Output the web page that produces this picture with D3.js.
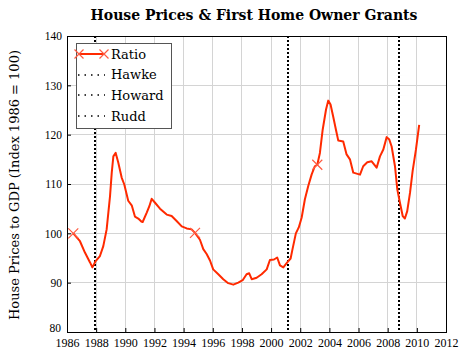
<!DOCTYPE html>
<html><head><meta charset="utf-8">
<script src="https://cdn.jsdelivr.net/npm/d3@7"></script>
<style>body{margin:0;background:#fff}svg{display:block}</style>
</head><body>
<svg id="c" width="465" height="355"></svg>
<script>
const years = [1986.43,1986.89,1987.23,1987.58,1987.74,1987.95,1988.26,1988.49,1988.72,1988.95,1989.07,1989.18,1989.34,1989.52,1989.75,1989.93,1990.2,1990.45,1990.66,1990.89,1991.1,1991.19,1991.47,1991.65,1991.81,1992.04,1992.38,1992.84,1993.18,1993.52,1993.87,1994.21,1994.55,1994.78,1995.12,1995.35,1995.58,1995.81,1996.03,1996.38,1996.72,1997.06,1997.41,1997.75,1998.05,1998.32,1998.5,1998.67,1999.01,1999.35,1999.7,1999.92,2000.2,2000.42,2000.61,2000.84,2001.11,2001.34,2001.45,2001.7,2001.9,2002.1,2002.32,2002.55,2002.78,2003.0,2003.17,2003.35,2003.54,2003.77,2003.92,2004.08,2004.26,2004.45,2004.61,2004.95,2005.18,2005.41,2005.64,2006.1,2006.32,2006.6,2006.9,2007.24,2007.47,2007.7,2007.93,2008.11,2008.27,2008.5,2008.66,2008.84,2009.03,2009.18,2009.34,2009.53,2009.71,2009.94,2010.16];
const ratio = [100.0,98.4,96.1,94.1,93.1,94.3,95.4,97.4,100.8,107.5,112.3,115.6,116.3,114.3,111.3,109.9,106.6,105.6,103.4,103.0,102.4,102.3,104.2,105.5,107.0,106.2,105.0,103.8,103.5,102.5,101.4,101.0,100.8,100.1,98.7,96.8,95.8,94.5,92.7,91.7,90.7,89.9,89.6,90.0,90.5,91.7,91.9,90.7,91.0,91.7,92.7,94.6,94.7,95.1,93.5,93.1,94.1,94.9,96.5,100.0,101.2,103.2,106.9,109.6,111.9,113.6,113.9,116.3,121.0,125.1,126.9,126.1,123.7,121.0,118.8,118.6,116.0,115.0,112.3,111.9,113.6,114.4,114.6,113.3,115.6,117.0,119.5,119.0,117.6,113.6,108.9,106.2,103.5,103.0,104.5,108.2,112.6,117.0,122.0];
const markerYears = [1986.43, 1994.78, 2003.17];
const events = ["Hawke","Howard","Rudd"];
const eventYears = [1987.95, 2001.14, 2008.79];
const xTicks = d3.range(1986, 2013, 2);
const yTicks = [80,90,100,110,120,130,140];
const title = "House Prices & First Home Owner Grants";
const yLabel = "House Prices to GDP (Index 1986 = 100)";

const red = "#ff2a00";
const svg = d3.select("#c");
const L=67, R=446, T=36, B=332;
const x = d3.scaleLinear().domain([1986,2012]).range([L,R]);
const y = d3.scaleLinear().domain([80,140]).range([B,T]);

// grid
svg.append("g").selectAll("line").data(xTicks.slice(1,-1)).join("line")
  .attr("x1",d=>x(d)).attr("x2",d=>x(d)).attr("y1",T).attr("y2",B)
  .attr("stroke","#d4d4d4").attr("stroke-width",1).attr("shape-rendering","crispEdges");
svg.append("g").selectAll("line").data(yTicks.slice(1,-1)).join("line")
  .attr("y1",d=>y(d)).attr("y2",d=>y(d)).attr("x1",L).attr("x2",R)
  .attr("stroke","#d4d4d4").attr("stroke-width",1).attr("shape-rendering","crispEdges");

// axes
const xAxis = svg.append("g").attr("transform",`translate(0,${B})`)
  .call(d3.axisBottom(x).tickValues(xTicks).tickFormat(d3.format("d")).tickSizeInner(-4).tickSizeOuter(0).tickPadding(6));
const yAxis = svg.append("g").attr("transform",`translate(${L},0)`)
  .call(d3.axisLeft(y).tickValues(yTicks).tickSizeInner(-4).tickSizeOuter(0).tickPadding(5));
[xAxis,yAxis].forEach(a=>{a.select(".domain").remove();
  a.selectAll("line").attr("stroke","#000");});
xAxis.selectAll("text").attr("font-family","Liberation Serif").attr("font-size",12).attr("fill","#000");
yAxis.selectAll("text").attr("font-family","Liberation Serif").attr("font-size",11.5).attr("fill","#000")
  .attr("dy",d=>d===80?"-0.05em":"0.32em").attr("dx",d=>d===80?"-1":"0");

// event lines
svg.append("g").selectAll("line").data(eventYears).join("line")
  .attr("x1",d=>Math.round(x(d))).attr("x2",d=>Math.round(x(d))).attr("y1",T).attr("y2",B)
  .attr("stroke","#000").attr("stroke-width",2).attr("stroke-dasharray","2,2");

// ratio line
const line = d3.line().x((d,i)=>x(years[i])).y(d=>y(d)).curve(d3.curveLinear);
svg.append("path").datum(ratio).attr("d",line).attr("fill","none")
  .attr("stroke",red).attr("stroke-width",2).attr("stroke-linejoin","round");
const xm = (cx,cy,s)=>`M${cx-s},${cy-s}L${cx+s},${cy+s}M${cx-s},${cy+s}L${cx+s},${cy-s}`;
svg.append("g").selectAll("path").data(markerYears).join("path")
  .attr("d",d=>{const i=years.indexOf(d);return xm(x(years[i]),y(ratio[i]),5);})
  .attr("stroke","#ff5a40").attr("stroke-width",1.2).attr("fill","none");

// frame
svg.append("rect").attr("x",L).attr("y",T).attr("width",R-L).attr("height",B-T)
  .attr("fill","none").attr("stroke","#000").attr("stroke-width",1).attr("shape-rendering","crispEdges");

// legend
const lg = svg.append("g");
lg.append("rect").attr("x",76.5).attr("y",43.5).attr("width",95).attr("height",85)
  .attr("fill","#fff").attr("stroke","#555").attr("stroke-width",1).attr("shape-rendering","crispEdges");
const items = ["Ratio"].concat(events);
items.forEach((name,i)=>{
  const cy = 54 + i*20.7;
  if(i===0){
    lg.append("line").attr("x1",79).attr("x2",104).attr("y1",cy).attr("y2",cy)
      .attr("stroke",red).attr("stroke-width",2);
    [79,104].forEach(cx=>lg.append("path").attr("d",xm(cx,cy,4.5))
      .attr("stroke","#ff5a40").attr("stroke-width",1.2).attr("fill","none"));
  } else {
    lg.append("line").attr("x1",78).attr("x2",105).attr("y1",Math.round(cy)).attr("y2",Math.round(cy))
      .attr("stroke","#000").attr("stroke-width",1.5).attr("stroke-dasharray","1.5,5");
  }
  lg.append("text").attr("x",111).attr("y",cy+4.5).text(name)
    .attr("font-family","DejaVu Serif").attr("font-size",13).attr("fill","#000");
});

// title & y label
svg.append("text").attr("x",254).attr("y",20).attr("text-anchor","middle").text(title)
  .attr("font-family","DejaVu Serif").attr("font-weight","bold").attr("font-size",14).attr("fill","#000");
svg.append("text").attr("transform","translate(19,185) rotate(-90)").attr("text-anchor","middle")
  .text(yLabel).attr("font-family","DejaVu Serif").attr("font-size",13).attr("fill","#000");
</script>
</body></html>
